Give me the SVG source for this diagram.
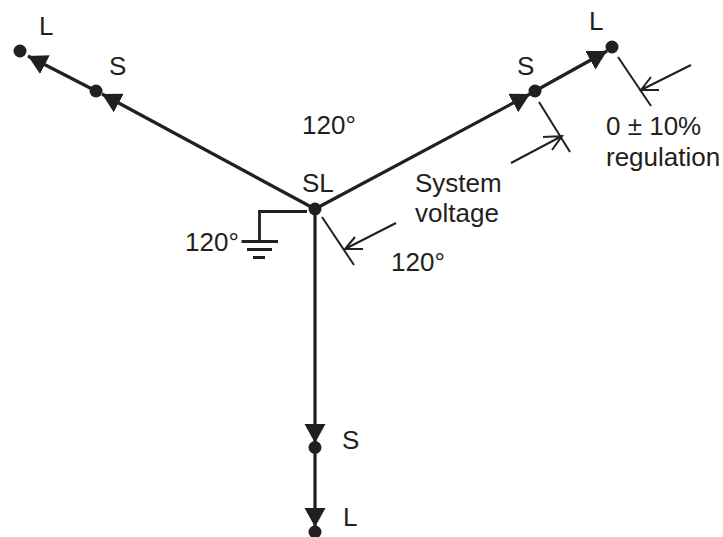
<svg xmlns="http://www.w3.org/2000/svg" width="723" height="537" viewBox="0 0 723 537">
<style>
text{font-family:"Liberation Sans",Arial,sans-serif;font-size:26px;fill:#231f20}
.w{fill:none;stroke:#231f20;stroke-width:3.2}
.t{fill:none;stroke:#231f20;stroke-width:2}
.g{fill:none;stroke:#231f20;stroke-width:2.8}
.d{fill:#231f20}
</style>
<defs>
<marker id="a" markerUnits="userSpaceOnUse" markerWidth="22" markerHeight="24" refX="19" refY="11.500" orient="auto"><path d="M0 1L19 11.500L0 22Z" fill="#231f20"/></marker>
</defs>
<rect width="723" height="537" fill="#fff"/>
<g id="connectors">
<path class="w" d="M315 209L102 94" marker-end="url(#a)"/>
<path class="w" d="M96 91L28 56" marker-end="url(#a)"/>
<path class="w" d="M315 209L530 94" marker-end="url(#a)"/>
<path class="w" d="M535 91L607 51" marker-end="url(#a)"/>
<path class="w" d="M315 209V443" marker-end="url(#a)"/>
<path class="w" d="M315 447V527" marker-end="url(#a)"/>
<path class="g" d="M307 211.500H259.500V241"/>
</g>
<g id="ground"><path class="g" d="M241.500 241.500H278M247 249.500H272M253 257.500H265"/></g>
<g id="node-SL"><circle class="d" cx="315" cy="209" r="6.500"/><text x="302" y="192">SL</text></g>
<g id="node-S1"><circle class="d" cx="96" cy="91" r="6.500"/><text x="109" y="75">S</text></g>
<g id="node-L1"><circle class="d" cx="20" cy="51" r="6.500"/><text x="39" y="35">L</text></g>
<g id="node-S2"><circle class="d" cx="535" cy="91" r="6.500"/><text x="517" y="75">S</text></g>
<g id="node-L2"><circle class="d" cx="612" cy="47" r="6.500"/><text x="589" y="30">L</text></g>
<g id="node-S3"><circle class="d" cx="315" cy="447.500" r="6.500"/><text x="342" y="449">S</text></g>
<g id="node-L3"><circle class="d" cx="315" cy="532" r="6.500"/><text x="343" y="526">L</text></g>
<g id="dimensions">
<path class="t" d="M618 57L651 106M691 65L641 90M651 77L641 90H659"/>
<path class="t" d="M539 102L570 152M511 163L562 136M543 137L562 136L552 150"/>
<path class="t" d="M322 217L354 265M396 223L345 249M355 237L345 249H363"/>
</g>
<g id="labels">
<text x="302" y="134">120°</text>
<text x="185" y="251">120°</text>
<text x="391" y="271">120°</text>
<text x="415" y="192">System</text>
<text x="415" y="222">voltage</text>
<text x="606" y="135">0 ± 10%</text>
<text x="606" y="166">regulation</text>
</g>
</svg>
